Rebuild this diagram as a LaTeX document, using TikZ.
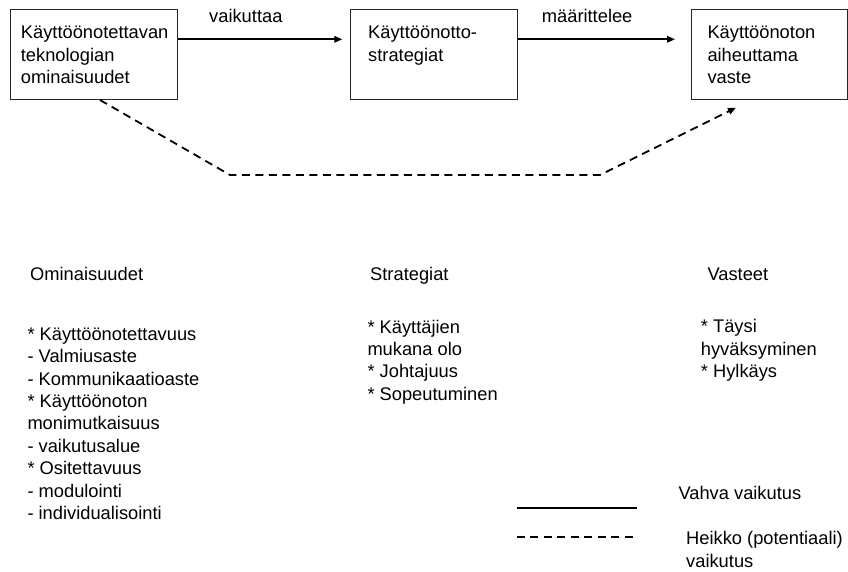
\documentclass[tikz,border=0pt]{standalone}
\usepackage{fontspec}
\setmainfont{Liberation Sans}
\usetikzlibrary{arrows.meta,calc}
\begin{document}
\begin{tikzpicture}[x=1pt,y=-1pt,
  txt/.style={inner sep=0pt,anchor=base west,align=left,font=\fontsize{18.3}{22.4}\selectfont},
  box/.style={draw=black!85,line width=1pt,anchor=north west,inner sep=0pt},
  strong/.style={line width=1.8pt},
  weak/.style={line width=1.8pt,dash pattern=on 8pt off 5.5pt},
  tip/.style={-{Triangle[length=8pt,width=6.5pt]}}]
\useasboundingbox (0,0) rectangle (848,572);
% boxes
\node[box,minimum width=166.7pt,minimum height=90.3pt] (b1) at (10,8.7) {};
\node[box,minimum width=166.7pt,minimum height=90.3pt] (b2) at (350,8.7) {};
\node[box,minimum width=156.5pt,minimum height=90.3pt] (b3) at (690.7,8.7) {};
% multi-line texts: anchor is the baseline of the last line
\node[txt] (t1) at ($(b1.north west)+(10.7,75.1)$) {Käyttöönotettavan\\teknologian\\ominaisuudet};
\node[txt] (t2) at ($(b2.north west)+(18,52.7)$) {Käyttöönotto-\\strategiat};
\node[txt] (t3) at ($(b3.north west)+(16.6,75.1)$) {Käyttöönoton\\aiheuttama\\vaste};
% strong arrows
\coordinate (a1s) at ($(b1.north east)+(0,30.6)$);
\coordinate (a1e) at ($(b2.north west)+(-7.7,30.6)$);
\coordinate (a2s) at ($(b2.north east)+(0,30.6)$);
\coordinate (a2e) at ($(b3.north west)+(-15.7,30.6)$);
\draw[strong,tip] (a1s) -- (a1e);
\draw[strong,tip] (a2s) -- (a2e);
\node[txt] (l1) at (209,23) {vaikuttaa};
\node[txt] (l2) at (541.7,23) {määrittelee};
% weak connector
\coordinate (w1) at ($(b1.south west)+(90,0)$);
\coordinate (w2) at (230,175);
\coordinate (w3) at (600,175);
\coordinate (w4) at ($(b3.south west)+(45.3,7.7)$);
\draw[weak,tip] (w1) -- (w2) -- (w3) -- (w4);
% headers
\node[txt] (h1) at (30,280.7) {Ominaisuudet};
\node[txt] (h2) at (370,280.7) {Strategiat};
\node[txt] (h3) at (707.3,280.7) {Vasteet};
% lists
\node[txt] (c1) at (27.3,519.5) {* Käyttöönotettavuus\\- Valmiusaste\\- Kommunikaatioaste\\* Käyttöönoton\\monimutkaisuus\\- vaikutusalue\\* Ositettavuus\\- modulointi\\- individualisointi};
\node[txt] (c2) at (367.3,400.3) {* Käyttäjien\\mukana olo\\* Johtajuus\\* Sopeutuminen};
\node[txt] (c3) at (700.7,377.5) {* Täysi\\hyväksyminen\\* Hylkäys};
% legend
\coordinate (s1) at (516.7,507.7);
\coordinate (s2) at (637.3,507.7);
\coordinate (d1) at (516.7,537.3);
\coordinate (d2) at (637.3,537.3);
\draw[strong] (s1) -- (s2);
\draw[weak] (d1) -- (d2);
\node[txt] (g1) at (678.3,499) {Vahva vaikutus};
\node[txt] (g2) at (686,567.3) {Heikko (potentiaali)\\vaikutus};
\end{tikzpicture}
\end{document}
